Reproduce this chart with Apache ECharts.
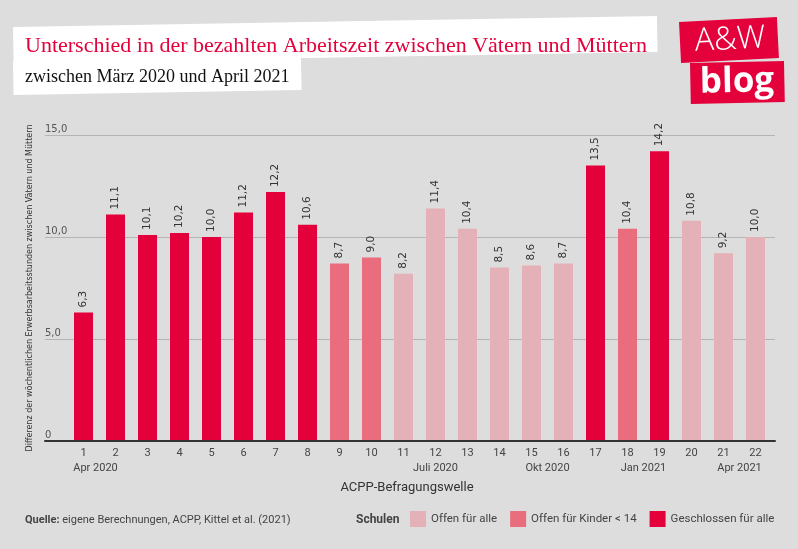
<!DOCTYPE html>
<html>
<head>
<meta charset="utf-8">
<script src="https://cdn.jsdelivr.net/npm/echarts@6/dist/echarts.min.js"></script>
<style>
html,body{margin:0;padding:0;background:#dddddd;}
#chart{width:798px;height:549px;}
</style>
</head>
<body>
<div id="chart"></div>
<script>
// ---- data ----
var waves = ['1','2','3','4','5','6','7','8','9','10','11','12','13','14','15','16','17','18','19','20','21','22'];
var values = [6.3,11.1,10.1,10.2,10.0,11.2,12.2,10.6,8.7,9.0,8.2,11.4,10.4,8.5,8.6,8.7,13.5,10.4,14.2,10.8,9.2,10.0];
// 0 = Offen für alle, 1 = Offen für Kinder < 14, 2 = Geschlossen für alle
var schoolStatus = [2,2,2,2,2,2,2,2,1,1,0,0,0,0,0,0,2,1,2,0,0,0];
var statusNames = ['Offen für alle','Offen für Kinder < 14','Geschlossen für alle'];
var statusColors = ['#e5b1b8','#ea6d7d','#e4003b'];
var monthPositions = [1.375, 12, 15.5, 18.5, 21.5];
var monthLabels = ['Apr 2020','Juli 2020','Okt 2020','Jan 2021','Apr 2021'];

var narrow = "'Roboto', sans-serif";
var dv = "'DejaVu Sans', sans-serif";
var fmt = function (v) { return v.toFixed(1).replace('.', ','); };

var series = statusNames.map(function (name, s) {
  return {
    name: name,
    type: 'bar',
    xAxisIndex: 0,
    yAxisIndex: 0,
    barWidth: 19,
    barGap: '-100%',
    itemStyle: { color: statusColors[s] },
    label: {
      show: true,
      position: 'top',
      rotate: 90,
      align: 'left',
      verticalAlign: 'middle',
      distance: 5,
      fontFamily: dv,
      fontSize: 10.5,
      color: '#333',
      formatter: function (p) { return fmt(p.value); }
    },
    data: values.map(function (v, i) { return schoolStatus[i] === s ? v : '-'; })
  };
});

var chart = echarts.init(document.getElementById('chart'), null, { renderer: 'canvas' });
chart.setOption({
  backgroundColor: '#dddddd',
  animation: false,
  grid: [
    { left: 67.5, right: 26.5, top: 135, bottom: 108 },
    { left: 45, right: 23, top: 135, bottom: 108 }
  ],
  xAxis: [
    {
      type: 'category', gridIndex: 0, data: waves, position: 'bottom',
      axisLine: { show: false }, axisTick: { show: false },
      axisLabel: { margin: 7, fontSize: 11, color: '#444', fontFamily: narrow }
    },
    {
      type: 'value', gridIndex: 0, min: 0.5, max: 22.5, interval: 0.125, position: 'bottom',
      axisLine: { show: false }, axisTick: { show: false }, splitLine: { show: false },
      axisLabel: {
        margin: 22, fontSize: 11, color: '#444', fontFamily: narrow,
        showMinLabel: false, showMaxLabel: false,
        formatter: function (v) {
          for (var i = 0; i < monthPositions.length; i++) {
            if (Math.abs(v - monthPositions[i]) < 1e-6) return monthLabels[i];
          }
          return '';
        }
      }
    },
    {
      type: 'value', gridIndex: 1, min: 0, max: 1, position: 'bottom', z: 10,
      axisLine: { show: true, lineStyle: { color: '#333', width: 2 } },
      axisTick: { show: false }, axisLabel: { show: false }, splitLine: { show: false }
    }
  ],
  yAxis: [
    { type: 'value', gridIndex: 0, min: 0, max: 15, show: false, splitLine: { show: false } },
    {
      type: 'value', gridIndex: 1, min: 0, max: 15, interval: 5,
      name: 'Differenz der wöchentlichen Erwerbsarbeitsstunden zwischen Vätern und Müttern',
      nameLocation: 'middle', nameGap: 0,
      nameTextStyle: { fontSize: 8, color: '#333', fontFamily: dv },
      axisLine: { show: false }, axisTick: { show: false },
      splitLine: { show: true, lineStyle: { color: '#b4b4b4', width: 1 } },
      axisLabel: {
        inside: true, margin: 0, verticalAlign: 'bottom', padding: [0, 0, 1, 0],
        fontSize: 10, color: '#555', fontFamily: dv,
        formatter: function (v) { return v === 0 ? '0' : fmt(v); }
      }
    }
  ],
  legend: {
    data: statusNames,
    left: 410, top: 511, width: 400,
    itemWidth: 16, itemHeight: 16, itemGap: 13,
    icon: 'rect', padding: 0,
    textStyle: { fontSize: 11.5, color: '#444', fontFamily: narrow }
  },
  graphic: [
    { type: 'rect', x: 13, y: 27, rotation: 0.017, originX: 0, originY: 0,
      shape: { x: 0, y: 0, width: 644, height: 36 }, style: { fill: '#ffffff' } },
    { type: 'rect', x: 13, y: 61, rotation: 0.017, originX: 0, originY: 0,
      shape: { x: 0, y: 0, width: 288, height: 34 }, style: { fill: '#ffffff' } },
    { type: 'text', x: 25, y: 46,
      style: { text: 'Unterschied in der bezahlten Arbeitszeit zwischen Vätern und Müttern',
        font: "22px 'Liberation Serif', serif", fill: '#e4003b', textVerticalAlign: 'middle' } },
    { type: 'text', x: 25, y: 77,
      style: { text: 'zwischen März 2020 und April 2021',
        font: "18px 'Liberation Serif', serif", fill: '#111', textVerticalAlign: 'middle' } },
    { type: 'rect', x: 679, y: 22, rotation: 0.05, originX: 0, originY: 0,
      shape: { x: 0, y: 0, width: 98, height: 41 }, style: { fill: '#e4003b' } },
    { type: 'rect', x: 690, y: 63, rotation: 0.02, originX: 0, originY: 0,
      shape: { x: 0, y: 0, width: 94, height: 41 }, style: { fill: '#e4003b' } },
    { type: 'text', x: 730, y: 40, rotation: 0.05,
      style: { text: 'A&W', font: "300 32px 'Open Sans', sans-serif", fill: '#fff',
        textAlign: 'center', textVerticalAlign: 'middle' } },
    { type: 'text', x: 737, y: 82, rotation: 0.02,
      style: { text: 'blog', font: "bold 35px 'Open Sans', sans-serif", fill: '#fff',
        textAlign: 'center', textVerticalAlign: 'middle' } },
    { type: 'text', x: 407, y: 488,
      style: { text: 'ACPP-Befragungswelle', font: "13px " + narrow, fill: '#333',
        textAlign: 'center', textVerticalAlign: 'middle' } },
    { type: 'text', x: 25, y: 520,
      style: { text: '{b|Quelle:} eigene Berechnungen, ACPP, Kittel et al. (2021)',
        font: "11px " + narrow, fill: '#444', textVerticalAlign: 'middle',
        rich: { b: { fontWeight: 'bold', fontSize: 11, fontFamily: narrow, fill: '#444' } } } },
    { type: 'text', x: 356, y: 520,
      style: { text: 'Schulen', font: "bold 12px " + narrow, fill: '#444', textVerticalAlign: 'middle' } }
  ],
  series: series
});
</script>
</body>
</html>
